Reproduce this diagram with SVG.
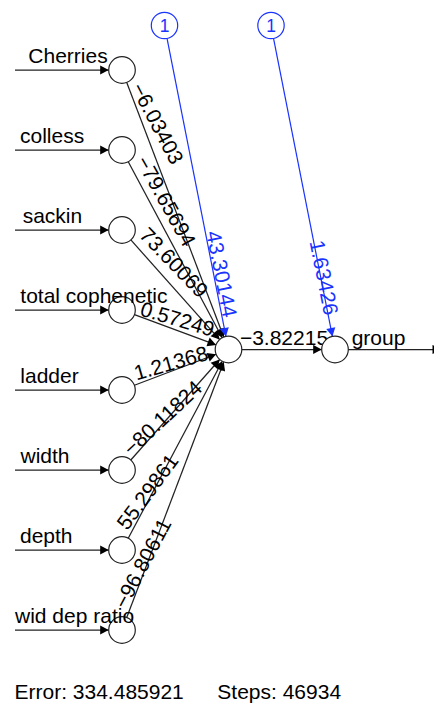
<svg xmlns="http://www.w3.org/2000/svg" width="434" height="704" viewBox="0 0 434 704">
  <style>
    text { font-family: "Liberation Sans", Arial, Helvetica, sans-serif; font-size: 21px; fill: #000; }
    .syn { stroke: #222; stroke-width: 1.25; fill: none; marker-end: url(#ah); }
    .bsyn { stroke: #1a33ff; stroke-width: 1.2; fill: none; marker-end: url(#ahb); }
    .w { text-anchor: middle; }
    .bw { text-anchor: middle; fill: #1a33ff; }
    .neuron { fill: #fff; stroke: #222; stroke-width: 1.2; }
    .bias { fill: #fff; stroke: #1a33ff; stroke-width: 1.2; }
    .one { font-size: 17.5px; fill: #1a33ff; text-anchor: middle; }
  </style>
  <defs>
    <marker id="ah" viewBox="-9 -5 10 10" refX="0" refY="0" markerWidth="10" markerHeight="10" markerUnits="userSpaceOnUse" orient="auto">
      <path d="M0,0 L-8.5,-4.6 L-8.5,4.6 Z" fill="#000"/>
    </marker>
    <marker id="ahb" viewBox="-9 -5 10 10" refX="0" refY="0" markerWidth="10" markerHeight="10" markerUnits="userSpaceOnUse" orient="auto">
      <path d="M0,0 L-8.5,-4.6 L-8.5,4.6 Z" fill="#1a33ff"/>
    </marker>
  </defs>

  <!-- synapses and their weights -->
  <g id="connectors">
    <!-- entry arrows -->
    <line class="syn" x1="15" y1="70" x2="108.7" y2="70"/>
    <line class="syn" x1="15" y1="150" x2="108.7" y2="150"/>
    <line class="syn" x1="15" y1="230" x2="108.7" y2="230"/>
    <line class="syn" x1="15" y1="310" x2="108.7" y2="310"/>
    <line class="syn" x1="15" y1="390" x2="108.7" y2="390"/>
    <line class="syn" x1="15" y1="470" x2="108.7" y2="470"/>
    <line class="syn" x1="15" y1="550" x2="108.7" y2="550"/>
    <line class="syn" x1="15" y1="630" x2="108.7" y2="630"/>

    <!-- input layer to hidden neuron -->
    <line class="syn" x1="126.74" y1="82.43" x2="223.76" y2="337.07"/>
    <line class="syn" x1="128.26" y1="161.73" x2="222.24" y2="337.77"/>
    <line class="syn" x1="130.85" y1="239.93" x2="219.65" y2="339.57"/>
    <line class="syn" x1="134.47" y1="314.62" x2="216.03" y2="344.88"/>
    <line class="syn" x1="134.43" y1="385.27" x2="216.07" y2="354.23"/>
    <line class="syn" x1="130.81" y1="460.03" x2="219.69" y2="359.47"/>
    <line class="syn" x1="128.24" y1="538.25" x2="222.26" y2="361.25"/>
    <line class="syn" x1="126.72" y1="617.57" x2="223.78" y2="361.93"/>

    <text class="w" transform="translate(157.5,123.5) rotate(62.5)" y="7.3">−6.03403</text>
    <text class="w" transform="translate(166,201) rotate(61)" y="7.3">−79.65694</text>
    <text class="w" transform="translate(174,262.5) rotate(46)" y="7.3">73.60069</text>
    <text class="w" transform="translate(177.5,319) rotate(16.5)" y="7.3">0.57249</text>
    <text class="w" transform="translate(171,363) rotate(-16)" y="7.3">1.21368</text>
    <text class="w" transform="translate(162.5,418) rotate(-43)" y="7.3">−80.11824</text>
    <text class="w" transform="translate(147.5,491.7) rotate(-53.5)" y="7.3">55.29861</text>
    <text class="w" transform="translate(142.5,563.3) rotate(-62)" y="7.3">−96.80611</text>

    <!-- intercepts -->
    <line class="bsyn" x1="167.08" y1="38.55" x2="225.92" y2="336.45"/>
    <line class="bsyn" x1="273.58" y1="38.55" x2="332.42" y2="336.45"/>
    <text class="bw" transform="translate(221.7,274) rotate(78.8)" y="7.3">43.30144</text>
    <text class="bw" transform="translate(324,277.5) rotate(78.8)" y="7.3">1.63426</text>

    <!-- hidden to output, output exit -->
    <line class="syn" x1="241.8" y1="349.5" x2="321.7" y2="349.5"/>
    <text class="w" x="284" y="345">−3.82215</text>
    <line class="syn" x1="348.3" y1="349.5" x2="441" y2="349.5"/>
  </g>

  <!-- input neurons -->
  <g id="in-cherries"><circle class="neuron" cx="122" cy="70" r="13.3"/><text x="28.3" y="63.3">Cherries</text></g>
  <g id="in-colless"><circle class="neuron" cx="122" cy="150" r="13.3"/><text x="20" y="143.3">colless</text></g>
  <g id="in-sackin"><circle class="neuron" cx="122" cy="230" r="13.3"/><text x="22.7" y="223.3">sackin</text></g>
  <g id="in-total-cophenetic"><circle class="neuron" cx="122" cy="310" r="13.3"/><text x="20.3" y="303.3">total cophenetic</text></g>
  <g id="in-ladder"><circle class="neuron" cx="122" cy="390" r="13.3"/><text x="20.3" y="383.3">ladder</text></g>
  <g id="in-width"><circle class="neuron" cx="122" cy="470" r="13.3"/><text x="20.5" y="463.3">width</text></g>
  <g id="in-depth"><circle class="neuron" cx="122" cy="550" r="13.3"/><text x="20" y="543.3">depth</text></g>
  <g id="in-wid-dep-ratio"><circle class="neuron" cx="122" cy="630" r="13.3"/><text x="15" y="623.3">wid dep ratio</text></g>

  <!-- hidden neuron -->
  <g id="hidden-1"><circle class="neuron" cx="228.5" cy="349.5" r="13.3"/></g>

  <!-- output neuron -->
  <g id="out-group"><circle class="neuron" cx="335" cy="349.5" r="13.3"/><text x="351.7" y="345">group</text></g>

  <!-- bias neurons -->
  <g id="bias-1"><circle class="bias" cx="164.5" cy="25.5" r="13.2"/><text class="one" x="164.5" y="31.5">1</text></g>
  <g id="bias-2"><circle class="bias" cx="271" cy="25.5" r="13.2"/><text class="one" x="271" y="31.5">1</text></g>

  <!-- training summary -->
  <g id="info">
    <text x="14.5" y="699">Error: 334.485921</text>
    <text x="217.3" y="699">Steps: 46934</text>
  </g>
</svg>
